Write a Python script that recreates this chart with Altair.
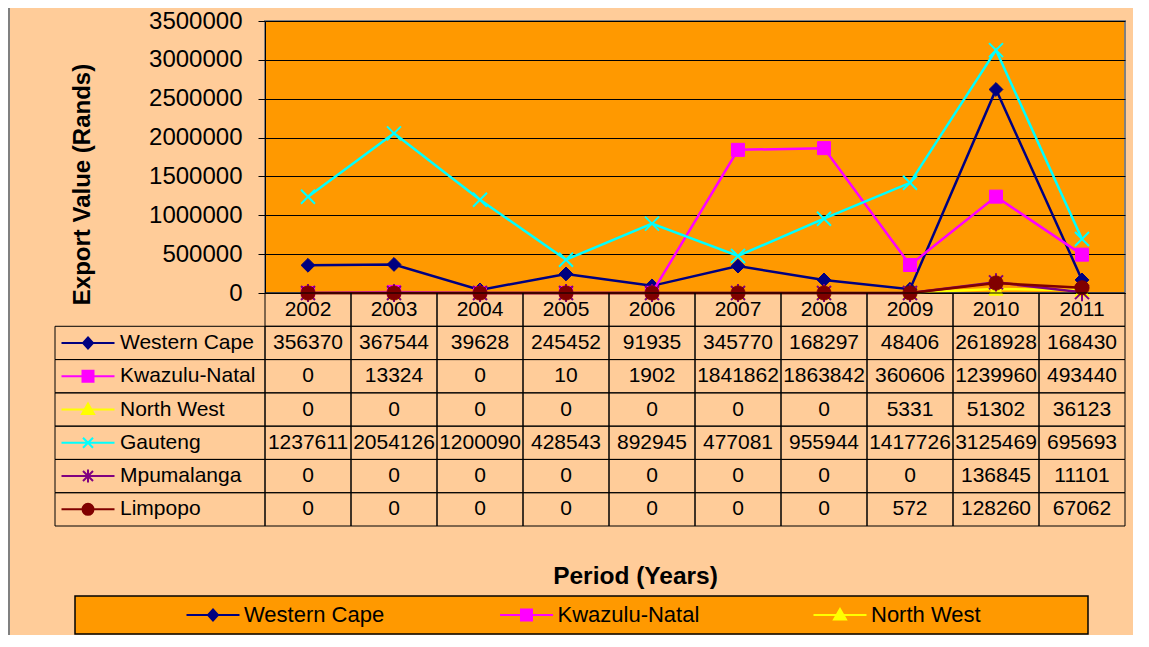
import altair as alt
import pandas as pd

YEARS = ["2002", "2003", "2004", "2005", "2006", "2007", "2008", "2009", "2010", "2011"]
SERIES = ["Western Cape", "Kwazulu-Natal", "North West", "Gauteng", "Mpumalanga", "Limpopo"]
WESTERN_CAPE = [356370, 367544, 39628, 245452, 91935, 345770, 168297, 48406, 2618928, 168430]
KWAZULU_NATAL = [0, 13324, 0, 10, 1902, 1841862, 1863842, 360606, 1239960, 493440]
NORTH_WEST = [0, 0, 0, 0, 0, 0, 0, 5331, 51302, 36123]
GAUTENG = [1237611, 2054126, 1200090, 428543, 892945, 477081, 955944, 1417726, 3125469, 695693]
MPUMALANGA = [0, 0, 0, 0, 0, 0, 0, 0, 136845, 11101]
LIMPOPO = [0, 0, 0, 0, 0, 0, 0, 572, 128260, 67062]
VALUES = [WESTERN_CAPE, KWAZULU_NATAL, NORTH_WEST, GAUTENG, MPUMALANGA, LIMPOPO]
LEGEND_SERIES = ["Western Cape", "Kwazulu-Natal", "North West"]
Y_TICKS = [0, 500000, 1000000, 1500000, 2000000, 2500000, 3000000, 3500000]

# styles
COLORS = ["#000080", "#FF00FF", "#FFFF00", "#00FFFF", "#800080", "#800000"]
MARKERS = ["diamond", "square", "triangle-up",
           "M-1,-1L1,1M-1,1L1,-1",
           "M-1,-1L1,1M-1,1L1,-1M0,-1.3L0,1.3",
           "circle"]
MARKER_SIZES = [190, 170, 200, 196, 196, 200]
MARKER_STROKES = [1, 1, 1, 2, 2, 1]
KEY_LINE = "M-2.65,0H2.65"
KEYS = [
    KEY_LINE + "M0,-0.55L0.5,0L0,0.55L-0.5,0Z",
    KEY_LINE + "M-0.55,-0.55H0.55V0.55H-0.55Z",
    KEY_LINE + "M0,-0.6L0.6,0.45H-0.6Z",
    KEY_LINE + "M-0.5,-0.5L0.5,0.5M-0.5,0.5L0.5,-0.5",
    KEY_LINE + "M-0.5,-0.5L0.5,0.5M-0.5,0.5L0.5,-0.5M0,-0.65V0.65",
    KEY_LINE + "M0.55,0A0.55,0.55,0,1,1,-0.55,0A0.55,0.55,0,1,1,0.55,0Z",
]

FONT = "Liberation Sans"
W, H = 860, 272

long_rows = []
for s, vals in zip(SERIES, VALUES):
    for y, v in zip(YEARS, vals):
        long_rows.append({"Year": y, "Series": s, "Value": v})
long_df = pd.DataFrame(long_rows)

ROWS = ["hdr"] + SERIES
table_rows = []
for y in YEARS:
    table_rows.append({"Year": y, "Row": "hdr", "Text": y})
for s, vals in zip(SERIES, VALUES):
    for y, v in zip(YEARS, vals):
        table_rows.append({"Year": y, "Row": s, "Text": str(v)})
table_df = pd.DataFrame(table_rows)
label_df = pd.DataFrame({"Row": SERIES})
legend_df = pd.DataFrame({"Series": LEGEND_SERIES})

x_scale = alt.Scale(type="band", domain=YEARS, paddingInner=0, paddingOuter=0)
y_scale = alt.Scale(domain=[0, 3500000], nice=False, zero=True)
color_scale = alt.Scale(domain=SERIES, range=COLORS)
key_scale = alt.Scale(domain=SERIES, range=KEYS)

x_axis = alt.Axis(labels=False, ticks=False, grid=False, domain=True, domainColor="black",
                  domainWidth=1, title="Period (Years)", titleFontSize=24.5, titleFontWeight="bold",
                  titleColor="black", titleX=370, titleY=283, titleBaseline="middle", titleAlign="center")
y_axis = alt.Axis(values=Y_TICKS, format="d", labelFontSize=24, labelColor="black", labelPadding=16,
                  labelFlush=False, labelOverlap=False,
                  tickSize=7, tickColor="black", domainColor="black", gridColor="black", gridWidth=1,
                  title="Export Value (Rands)", titleFontSize=24, titleFontWeight="bold", titleColor="black",
                  titleX=-183, titleY=163, titleBaseline="middle", titleAlign="center", titleAngle=-90)

base = alt.Chart(long_df)
plot_layers = []
for i, s in enumerate(SERIES):
    enc = dict(
        x=alt.X("Year:O", scale=x_scale, bandPosition=0.5, axis=x_axis),
        y=alt.Y("Value:Q", scale=y_scale, axis=y_axis),
    )
    line = base.transform_filter(alt.datum.Series == s).mark_line(
        color=COLORS[i], strokeWidth=2.5).encode(**enc)
    pts = base.transform_filter(alt.datum.Series == s).mark_point(
        filled=True, shape=MARKERS[i], size=MARKER_SIZES[i], color=COLORS[i], stroke=COLORS[i],
        strokeWidth=MARKER_STROKES[i], opacity=1).encode(**enc)
    plot_layers += [line, pts]
plot = alt.layer(*plot_layers)

row_scale = alt.Scale(type="band", domain=ROWS, range=[H, H + 233], paddingInner=0, paddingOuter=0)
tbase = alt.Chart(table_df)
cells = tbase.mark_rect(fillOpacity=0, stroke="black", strokeWidth=1).encode(
    x=alt.X("Year:O", scale=x_scale, axis=None),
    y=alt.Y("Row:N", scale=row_scale, axis=None),
)
cell_text = tbase.mark_text(fontSize=21, color="black", baseline="middle", align="center").encode(
    x=alt.X("Year:O", scale=x_scale, axis=None, bandPosition=0.5),
    y=alt.Y("Row:N", scale=row_scale, axis=None),
    text="Text:N",
)
lbase = alt.Chart(label_df)
label_cells = lbase.mark_rect(fillOpacity=0, stroke="black", strokeWidth=1).encode(
    x=alt.value(-210), x2=alt.value(0),
    y=alt.Y("Row:N", scale=row_scale, axis=None),
)
label_text = lbase.mark_text(fontSize=21, color="black", baseline="middle", align="left").encode(
    x=alt.value(-145),
    y=alt.Y("Row:N", scale=row_scale, axis=None),
    text="Row:N",
)
label_keys = lbase.mark_point(filled=True, size=400, strokeWidth=2, opacity=1).encode(
    x=alt.value(-177),
    y=alt.Y("Row:N", scale=row_scale, axis=None),
    color=alt.Color("Row:N", scale=color_scale, legend=None),
    stroke=alt.Stroke("Row:N", scale=color_scale, legend=None),
    shape=alt.Shape("Row:N", scale=key_scale, legend=None),
)
table = alt.layer(cells, cell_text, label_cells, label_text, label_keys)

leg_x = alt.Scale(type="point", domain=LEGEND_SERIES, range=[-52, 575], padding=0)
gbase = alt.Chart(legend_df)
one = pd.DataFrame({"k": [0]})
box = alt.Chart(one).mark_rect(fill="#FF9900", stroke="black", strokeWidth=1.5).encode(
    x=alt.value(-190), x2=alt.value(823), y=alt.value(575), y2=alt.value(613))
frame = alt.Chart(one).mark_rule(color="#808080", strokeWidth=2).encode(
    x=alt.value(-256), y=alt.value(-15), y2=alt.value(620))
leg_keys = gbase.mark_point(filled=True, size=400, strokeWidth=2, opacity=1).encode(
    x=alt.X("Series:N", scale=leg_x, axis=None),
    y=alt.value(594),
    color=alt.Color("Series:N", scale=color_scale, legend=None),
    stroke=alt.Stroke("Series:N", scale=color_scale, legend=None),
    shape=alt.Shape("Series:N", scale=key_scale, legend=None),
)
leg_text = gbase.mark_text(fontSize=22, color="black", baseline="middle", align="left", dx=31).encode(
    x=alt.X("Series:N", scale=leg_x, axis=None),
    y=alt.value(594),
    text="Series:N",
)
legend = alt.layer(frame, box, leg_keys, leg_text)

chart = alt.layer(plot, table, legend).resolve_scale(
    x="independent", y="independent", color="independent", shape="independent", stroke="independent"
).properties(
    width=W, height=H, background="#FFCC99",
    padding={"left": 257, "top": 13, "right": 8, "bottom": 342},
    autosize=alt.AutoSizeParams(type="none"),
).configure(font=FONT).configure_view(fill="#FF9900", stroke="#808080", strokeWidth=2)

chart.save("out.html", embed_options={"renderer": "svg", "actions": False})
